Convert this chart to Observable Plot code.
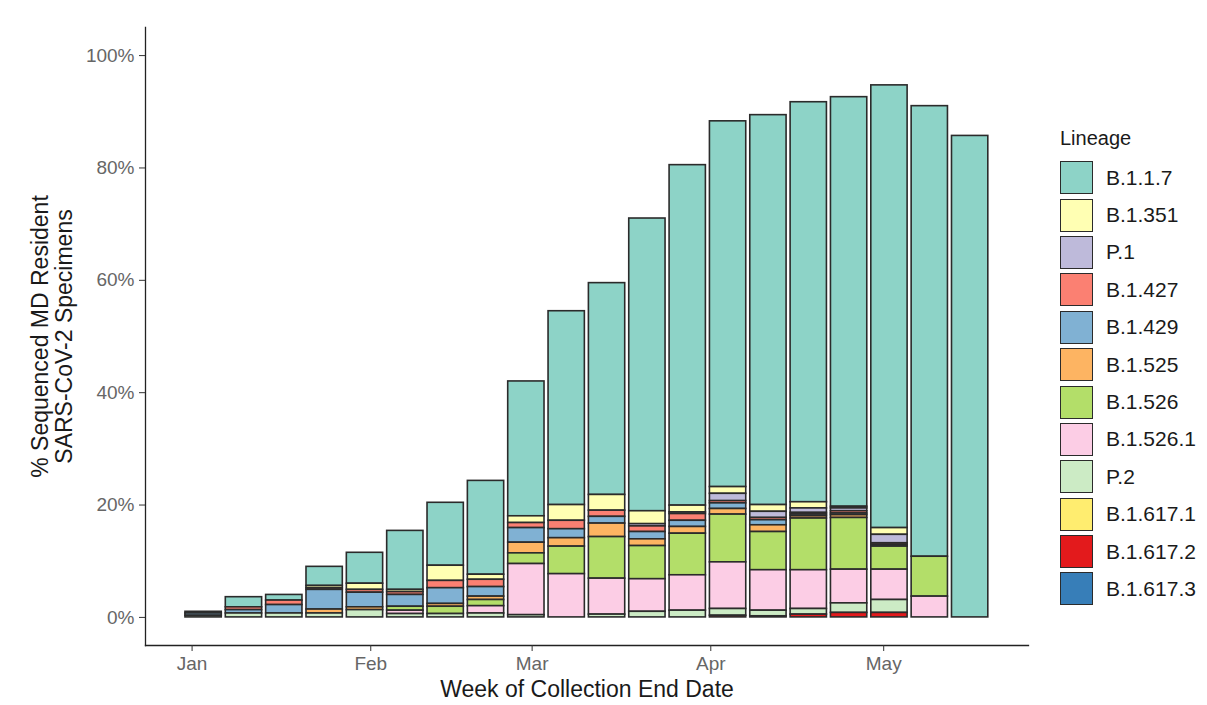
<!DOCTYPE html>
<html>
<head>
<meta charset="utf-8">
<script src="https://cdn.jsdelivr.net/npm/d3@7"></script>
<script src="https://cdn.jsdelivr.net/npm/@observablehq/plot@0.6"></script>
<style>
  html, body { margin: 0; padding: 0; background: #fff; }
  #wrap { position: relative; width: 1207px; height: 705px; font-family: "Liberation Sans", Arial, sans-serif; }
  #legend { position: absolute; left: 1060px; top: 124px; color: #1a1a1a; }
  #legend .title { font-size: 20px; height: 35px; line-height: 28px; }
  #legend .item { display: flex; align-items: center; height: 37.4px; }
  #legend .sw { width: 31px; height: 31px; border: 1.5px solid #2b2b2b; box-sizing: content-box; margin-right: 13px; }
  #legend .lab { font-size: 21px; }
</style>
</head>
<body>
<div id="wrap"><div id="chart"></div><div id="legend"></div></div>
<script>
// Week of collection end dates
const weekEnd = ["2021-01-03","2021-01-10","2021-01-17","2021-01-24","2021-01-31","2021-02-07","2021-02-14","2021-02-21","2021-02-28","2021-03-07","2021-03-14","2021-03-21","2021-03-28","2021-04-04","2021-04-11","2021-04-18","2021-04-25","2021-05-02","2021-05-09","2021-05-16"];

// Lineages (legend order, top of stack first) and colours
const lineages = ["B.1.1.7","B.1.351","P.1","B.1.427","B.1.429","B.1.525","B.1.526","B.1.526.1","P.2","B.1.617.1","B.1.617.2","B.1.617.3"];
const colors   = ["#8dd3c7","#ffffb3","#bebada","#fb8072","#80b1d3","#fdb462","#b3de69","#fccde5","#ccebc5","#ffed6f","#e31a1c","#377eb8"];

// Percent of sequenced specimens, one value per week
const b117   = [0.3,1.8,1.0,3.4,5.5,10.5,11.2,16.7,24.0,34.5,37.7,52.1,60.6,65.1,69.4,71.2,72.9,78.8,80.2,85.7];
const b1351  = [0,0,0,0.4,1.1,0.4,2.7,0.9,1.2,2.8,2.8,2.3,1.2,1.2,1.2,1.1,0.3,1.2,0,0];
const p1     = [0,0,0,0,0,0,0,0,0,0,0,0.4,0.3,1.3,1.1,0.8,0.5,1.5,0,0];
const b1427  = [0,0.5,0.8,0.3,0.5,0.5,1.3,1.3,0.9,1.5,1.1,1.0,1.2,0.4,0.4,0.3,0.4,0.3,0,0];
const b1429  = [0.4,0.6,1.5,3.5,2.6,2.1,2.8,1.7,2.6,1.6,1.2,1.3,1.1,1.0,0.9,0.3,0.3,0.3,0,0];
const b1525  = [0,0,0,0.7,0.5,0,0.5,0.6,1.9,1.5,2.4,1.2,1.2,1.0,1.2,0.4,0.5,0,0,0];
const b1526  = [0,0,0,0,0,0.7,1.3,1.1,1.9,4.9,7.4,5.9,7.4,8.5,6.8,9.2,9.2,4.1,7.1,0];
const b15261 = [0,0,0,0,0,0.6,0,1.3,9.1,7.7,6.4,5.8,6.3,8.3,7.2,6.9,6.0,5.4,3.7,0];
const p2     = [0.3,0.7,0.7,0.7,1.3,0.6,0.6,0.7,0.4,0,0.5,1.0,1.2,1.2,1.0,1.0,1.7,2.3,0,0];
const b16171 = [0,0,0,0,0,0,0,0,0,0,0,0,0,0,0,0,0,0,0,0];
const b16172 = [0,0,0,0,0,0,0,0,0,0,0,0,0,0.3,0.2,0.5,0.8,0.8,0,0];
const b16173 = [0,0,0,0,0,0,0,0,0,0,0,0,0,0,0,0,0,0,0,0];

const monthTicks = ["2021-01-01","2021-02-01","2021-03-01","2021-04-01","2021-05-01"];
const yTicks = [0,20,40,60,80,100];
const xTitle = "Week of Collection End Date";
const yTitle = "% Sequenced MD Resident\nSARS-CoV-2 Specimens";
const legendTitle = "Lineage";

const series = [b117,b1351,p1,b1427,b1429,b1525,b1526,b15261,p2,b16171,b16172,b16173];
const dayMs = 864e5;
const halfBar = 0.9 * 7 / 2; // bar width = 0.9 of a week, centred on the date

const table = [];
weekEnd.forEach((w, i) => {
  const date = new Date(w + "T00:00Z");
  lineages.forEach((lin, j) => {
    const v = series[j][i];
    if (v > 0) table.push({date, lineage: lin, value: v,
      start: new Date(+date - halfBar * dayMs), end: new Date(+date + halfBar * dayMs)});
  });
});
const stackOrder = lineages.slice().reverse(); // bottom of stack first

const chart = Plot.plot({
  width: 1207,
  height: 705,
  marginLeft: 145,
  marginRight: 179,
  marginTop: 27,
  marginBottom: 60,
  style: {fontFamily: "Liberation Sans, Arial, sans-serif", fontSize: "20px", background: "#fff"},
  x: {type: "utc", domain: [new Date(Date.UTC(2020,11,23,22)), new Date(Date.UTC(2021,4,26,3))]},
  y: {domain: [-5, 105]},
  color: {domain: lineages, range: colors},
  marks: [
    Plot.rectY(table, Plot.stackY({x1: "start", x2: "end", y: "value", z: "lineage", order: stackOrder,
      fill: "lineage", stroke: "#2b2b2b", strokeWidth: 1.6})),
    Plot.frame({anchor: "left", stroke: "#222", strokeWidth: 1.3}),
    Plot.frame({anchor: "bottom", stroke: "#222", strokeWidth: 1.3}),
    Plot.axisY({ticks: yTicks, tickFormat: d => d + "%", tickSize: 6, tickPadding: 5, label: null,
      fill: "#666", stroke: "#333", fontSize: 19}),
    Plot.axisX({ticks: monthTicks.map(d => new Date(d + "T00:00Z")), tickFormat: d3.utcFormat("%b"),
      tickSize: 6, tickPadding: 5, label: null, fill: "#666", stroke: "#333", fontSize: 19}),
    Plot.text([xTitle], {frameAnchor: "bottom", dy: 51, fontSize: 23, fill: "#1a1a1a", text: d => d}),
    Plot.text([yTitle], {frameAnchor: "left", textAnchor: "middle", dx: -93, rotate: -90, fontSize: 23,
      lineHeight: 1.05, fill: "#1a1a1a", text: d => d})
  ]
});
document.getElementById("chart").appendChild(chart);

// Legend built from the same lineage and colour arrays
const lg = document.getElementById("legend");
const t = document.createElement("div"); t.className = "title"; t.textContent = legendTitle; lg.appendChild(t);
lineages.forEach((lin, j) => {
  const it = document.createElement("div"); it.className = "item";
  const sw = document.createElement("div"); sw.className = "sw"; sw.style.background = colors[j];
  const lab = document.createElement("span"); lab.className = "lab"; lab.textContent = lin;
  it.appendChild(sw); it.appendChild(lab); lg.appendChild(it);
});
</script>
</body>
</html>
